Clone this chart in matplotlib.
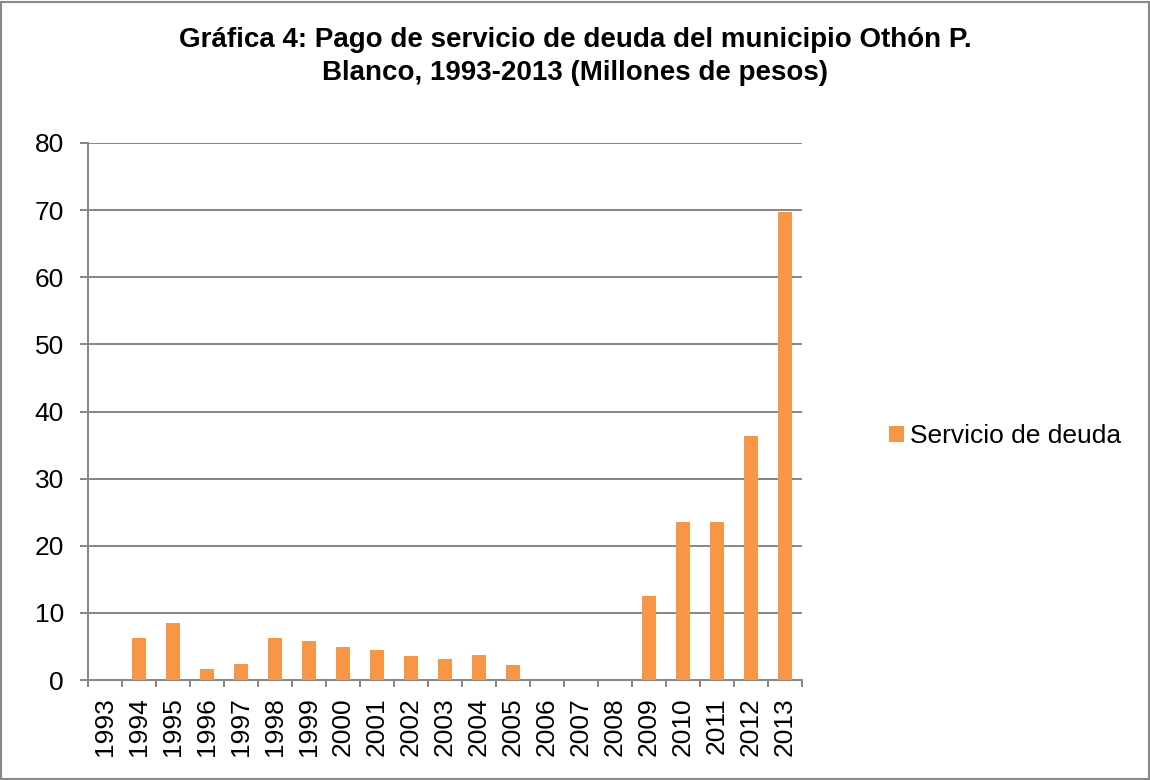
import matplotlib
matplotlib.use("Agg")
import matplotlib.pyplot as plt
from matplotlib.patches import Rectangle, Patch

years = [str(y) for y in range(1993, 2014)]
servicio = [0, 6.23, 8.54, 1.71, 2.31, 6.28, 5.83, 4.92, 4.42, 3.57, 3.11, 3.72, 2.17,
            0, 0, 0, 12.52, 23.6, 23.5, 36.3, 69.75]
series_name = "Servicio de deuda"
title_lines = ["Gráfica 4: Pago de servicio de deuda del municipio Othón P.",
               "Blanco, 1993-2013 (Millones de pesos)"]

plt.rcParams['font.family'] = ['Liberation Sans', 'DejaVu Sans']

W, H = 1150, 780
PX = 72 / 100  # points per pixel
fig = plt.figure(figsize=(W/100, H/100), dpi=100)
ax = fig.add_axes([88/W, 1-680/H, (802-88)/W, (680-143)/H])

orange = '#F79646'
grid = '#898989'
x = list(range(len(years)))
ax.bar(x, servicio, width=0.4, color=orange, zorder=3)

ax.set_xlim(-0.5, len(years)-0.5)
ax.set_ylim(0, 80)
ax.set_yticks(range(0, 81, 10))
ax.yaxis.grid(True, color=grid, linewidth=2*PX, zorder=0)
ax.set_xticks(x)
ax.set_xticklabels(years, rotation=90, fontsize=19)
ax.tick_params(axis='x', length=0, pad=17*PX)
ax.set_xticks([i - 0.5 for i in range(len(years)+1)], minor=True)
ax.tick_params(axis='x', which='minor', length=7*PX, width=2*PX, color=grid, direction='out')
ax.tick_params(axis='y', labelsize=19, length=8*PX, width=2*PX, color=grid, pad=16*PX)
for s in ['top', 'right']:
    ax.spines[s].set_visible(False)
for s in ['left', 'bottom']:
    ax.spines[s].set_color(grid)
    ax.spines[s].set_linewidth(2*PX)

fig.text(575/W, 1-47/H, title_lines[0], ha='center', va='baseline', fontsize=20,
         fontweight='bold')
fig.text(575/W, 1-80/H, title_lines[1], ha='center', va='baseline', fontsize=20,
         fontweight='bold')

fig.legend(handles=[Patch(facecolor=orange, label=series_name)],
           loc='center left', bbox_to_anchor=(889/W, 1-436/H), frameon=False,
           fontsize=19, handlelength=0.55, handleheight=0.55, handletextpad=0.25,
           borderaxespad=0, borderpad=0)

fig.add_artist(Rectangle((1/W, 1/H), 1-2.5/W, 1-2.5/H, transform=fig.transFigure,
                         fill=False, edgecolor=grid, linewidth=1.5))

fig.savefig('out.png', dpi=100)
